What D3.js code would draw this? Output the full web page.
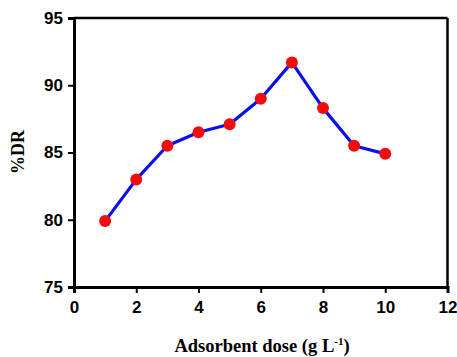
<!DOCTYPE html>
<html><head><meta charset="utf-8">
<script src="https://cdn.jsdelivr.net/npm/d3@7"></script>
<style>html,body{margin:0;padding:0;background:#fff;}</style>
</head><body>
<svg id="chart" width="457" height="357"></svg>
<script>
const doses = [1, 2, 3, 4, 5, 6, 7, 8, 9, 10];
const drValues = [79.9, 83.0, 85.5, 86.5, 87.1, 89.0, 91.7, 88.3, 85.5, 84.9];
const xTicks = [0, 2, 4, 6, 8, 10, 12];
const yTicks = [75, 80, 85, 90, 95];
const xTitle = "Adsorbent dose (g L";
const yTitle = "%DR";

const svg = d3.select("#chart");
const L = 74, R = 447.5, T = 18, B = 287;
const x = d3.scaleLinear().domain([0, 12]).range([L, R]);
const y = d3.scaleLinear().domain([75, 95]).range([B, T]);

// frame top/right
svg.append("line").attr("x1", L).attr("x2", R).attr("y1", T).attr("y2", T)
  .attr("stroke", "#000").attr("stroke-width", 2.5);
svg.append("line").attr("x1", R).attr("x2", R).attr("y1", T).attr("y2", B)
  .attr("stroke", "#000").attr("stroke-width", 2.5);

const xAxis = svg.append("g").attr("transform", `translate(0,${B})`)
  .call(d3.axisBottom(x).tickValues(xTicks).tickSize(6).tickPadding(8).tickFormat(d3.format("d")));
const yAxis = svg.append("g").attr("transform", `translate(${L},0)`)
  .call(d3.axisLeft(y).tickValues(yTicks).tickSize(6).tickPadding(5).tickFormat(d3.format("d")));
[xAxis, yAxis].forEach(g => {
  g.select(".domain").attr("stroke", "#000").attr("stroke-width", 3);
  g.selectAll(".tick line").attr("stroke", "#000").attr("stroke-width", 2);
  g.selectAll(".tick text").attr("fill", "#000")
    .style("font-family", "'Liberation Sans', Arial, sans-serif")
    .style("font-weight", "bold").style("font-size", "17px");
});

const line = d3.line().x((d, i) => x(doses[i])).y(d => y(d));
svg.append("path").datum(drValues).attr("d", line)
  .attr("fill", "none").attr("stroke", "#0a10e8").attr("stroke-width", 3.2)
  .attr("stroke-linejoin", "round");
svg.selectAll("circle.pt").data(drValues).enter().append("circle")
  .attr("class", "pt").attr("cx", (d, i) => x(doses[i])).attr("cy", d => y(d))
  .attr("r", 6).attr("fill", "#f00d0d");

const xt = svg.append("text").attr("x", 262).attr("y", 352).attr("text-anchor", "middle")
  .style("font-family", "'Liberation Serif', 'Times New Roman', serif")
  .style("font-weight", "bold").style("font-size", "18.5px").attr("fill", "#000");
xt.append("tspan").text(xTitle);
xt.append("tspan").attr("dy", -7).style("font-size", "11px").text("-1");
xt.append("tspan").attr("dy", 7).text(")");

svg.append("text").attr("transform", "translate(24,152) rotate(-90)")
  .attr("text-anchor", "middle")
  .style("font-family", "'Liberation Serif', 'Times New Roman', serif")
  .style("font-weight", "bold").style("font-size", "18px").attr("fill", "#000")
  .text(yTitle);
</script>
</body></html>
